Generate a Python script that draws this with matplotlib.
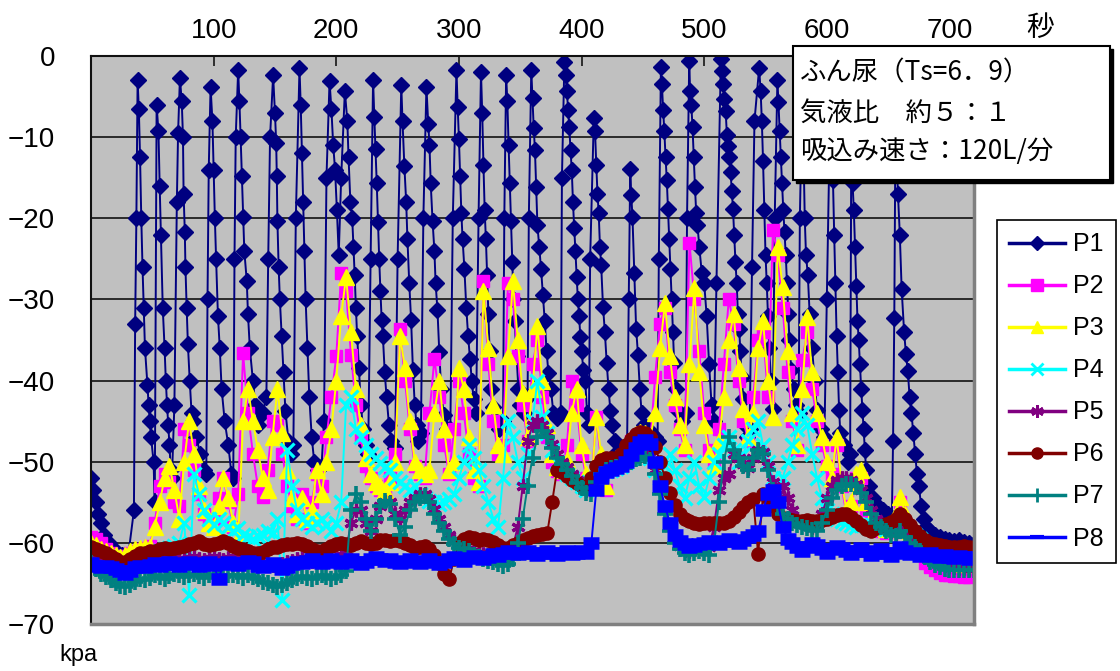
import numpy as np
import matplotlib
matplotlib.use('Agg')
import matplotlib.pyplot as plt
from matplotlib.patches import Rectangle

plt.rcParams['font.family'] = ['Liberation Sans', 'Noto Sans CJK JP', 'DejaVu Sans']

# P1 is read as (seconds, kPa) points, because its spikes are very narrow
p1_pts = [
    (0, -52), (2, -53.5), (4, -55), (6, -56.5), (8, -57.5), (11, -59), (15, -60), (20, -61), (25, -61.5), (30, -62), (35, -56),
    (36, -33), (37, -20), (38, -3), (39, -6.5), (40, -12.5), (41, -20), (42, -26), (43, -31), (44, -36), (46, -40.5), (47, -43), (48, -45), (49, -47), (51, -50), (52, -55),
    (53.5, -6), (55, -9.3), (56, -16), (57, -22), (58.5, -31), (60, -36), (61, -40), (62, -43), (63, -45.5), (64, -48), (65, -51),
    (66, -52), (68, -43), (70, -18), (71, -9.5), (72.5, -2.7), (74, -5.6), (75, -10), (75.5, -17), (76.5, -21.7), (77, -26), (78, -31), (79, -35.5), (80.5, -40), (82, -44), (83.5, -45),
    (86, -47), (89, -49), (92, -51), (94, -51.5),
    (95, -30), (96, -14), (97.5, -3.8), (99, -8), (100, -14), (101, -20), (102, -25), (103.5, -32), (105, -36), (106.5, -41), (109, -45), (112, -48), (114.5, -51.5), (116, -52),
    (117, -25), (118, -10), (120, -1.7), (121, -5.6), (122, -10), (123, -14.8), (124, -19.9), (125, -24), (127, -27.7), (128, -31.8), (129.5, -36), (132, -40), (134, -43), (136.5, -45.5), (140, -44), (143, -42),
    (144.5, -25), (146, -10), (148.5, -2.4), (150, -7), (151, -10.7), (151.5, -14.8), (152, -20.3), (153, -26), (154, -30), (155.5, -34.5), (157, -39), (158.5, -43.7), (161, -47.4), (163, -49), (165, -48),
    (167, -20), (170, -1.5), (171, -6), (172, -12), (173, -18), (174, -24), (175, -30), (176.5, -36), (178, -42), (180, -47), (182, -50), (185, -51), (188, -50.5),
    (190, -45), (192, -15), (194.5, -3.1), (196, -6.5), (197.5, -11), (199, -14), (200.5, -19), (202, -24.5),
    (204, -15), (207, -4.3), (209, -8), (210, -12.5), (211.5, -18), (213, -20), (214, -23.5), (215, -27), (216, -31), (217, -34.5), (218.5, -38.5), (220, -43), (222, -46), (224.5, -48), (226, -49),
    (228, -25), (230, -2.9), (231, -7.5), (232, -11.5), (233, -15.7), (234, -20.5), (235, -25), (236, -29), (237, -32.5), (238, -34.5), (239.5, -39), (241, -42), (243, -45.5), (245, -47.4), (248, -48.3),
    (250, -25), (253, -3.6), (254, -8), (255.5, -13.5), (257, -18), (258, -22.5), (259.5, -28), (261, -32.5), (262.5, -38.7), (264, -43), (265.5, -45.5), (267, -47.5), (269, -46.5),
    (271, -20), (273.5, -3.8), (275, -8.4), (276, -11), (277, -15.7), (278.5, -20.3), (280, -24), (281, -28), (282.5, -31.3), (284, -36.5), (285.5, -41), (287.5, -44.2), (290, -46), (293, -46),
    (295, -20), (298, -1.7), (299, -6.3), (300, -10.2), (301, -14.8), (302, -19.4), (303, -22.6), (304.5, -26.3), (306, -31), (307.5, -34.5), (309, -37.3), (310.5, -40), (312, -42.3), (314, -44),
    (316, -20), (318, -2), (319, -7), (320, -13.4), (321, -19), (322, -22.6), (323, -27), (324, -31.8), (325, -36.4), (326, -41), (327.5, -43.3), (330, -45), (333, -46), (336, -45),
    (337, -20), (338.5, -2.4), (339.5, -5.6), (340.5, -11), (341.5, -15.7), (342.5, -20.3), (343.5, -25.4), (344.5, -30), (345.5, -32.7), (347, -37), (348.5, -41), (350, -43), (353, -44), (356, -42),
    (357, -20), (359, -1.7), (360, -5.2), (361, -8.9), (362, -11.6), (363, -16.2), (364, -20.8), (365.5, -23.5), (367, -26.3), (368.5, -29.5), (370, -32.7), (371.5, -36.4), (373, -39.1), (375, -41), (377, -44), (380, -44.6), (383, -44),
    (384, -15), (386, -0.8), (387, -2.4), (388, -4.3), (389, -6.6), (390, -8.8), (391, -11.6), (392, -14), (393, -18), (394, -21.2), (395, -24), (396, -27.2), (397, -30), (398, -32), (399, -34.6), (400, -36.4), (401.5, -38.7), (403, -40), (404.5, -44), (406, -45.5),
    (407, -25), (410, -7.7), (411, -9.3), (412, -13.4), (413, -17), (414, -19.4), (415, -23.5), (416, -25.8), (417.5, -30.9), (419, -34), (420.5, -37.8), (422, -41), (423.5, -43.7), (425, -45.5), (427, -47.4), (429, -48.8), (432, -49.5), (435, -50), (437, -49.5),
    (438.5, -30), (439.7, -13.9), (440.5, -17.1), (441.5, -19.8), (443, -26.7), (444.5, -33.6), (446, -36.8), (447.5, -41), (449, -44), (451, -45.5), (454, -46), (457, -46.5), (460, -47), (462, -47.4),
    (463, -25), (464.7, -1.3), (465.5, -3.4), (466.5, -6.6), (467.5, -9.3), (468.5, -12.5), (469.5, -15.3), (470.5, -18.9), (471.5, -22.6), (472.5, -26.3), (473.5, -30), (474.5, -34), (475.5, -37.8), (477, -41), (479, -43.7), (482, -45), (485, -44),
    (486, -20), (487.8, -0.6), (488.5, -4.3), (489.5, -6.1), (490.5, -8.8), (491.5, -12.5), (492.5, -16.2), (493.5, -19.4), (494.5, -20.8), (496, -23.5), (498, -26.7), (500, -28), (502, -32), (504, -38), (506, -43), (508, -45),
    (510, -28), (513.6, -0.4), (514.5, -1.9), (515.5, -3.5), (516.5, -5.3), (517.5, -6.8), (518.5, -9.7), (519.5, -11.1), (520.5, -12.5), (521.5, -14.3), (522.5, -16.6), (523.5, -18.9), (524.5, -22.1), (525.5, -25.4), (526.5, -28), (527.5, -31.8), (528.5, -33.6), (529.5, -36.4), (530.5, -39.5), (532, -42.3), (533.5, -45.5), (535, -47), (537, -46),
    (539, -26), (541, -8), (544.8, -1.5), (546, -4.3), (547, -8), (548, -13), (549, -19), (550, -24.5), (551, -28), (552, -32), (553, -36), (554.5, -40), (556, -43.5),
    (557.5, -20), (559.7, -2.9), (560.5, -5.7), (561.5, -9.2), (562.5, -12.5), (563.5, -15.7), (564.5, -19), (565.5, -21.7), (566.5, -24.5), (567.5, -28), (568.5, -31.8), (569.5, -35), (571, -38.7), (573, -41), (575, -43), (577, -44),
    (578, -20), (580, -4), (581, -12), (582, -20), (583, -24.5), (584.5, -27), (586, -31.8), (588, -36), (590, -40), (592, -43.6), (595, -46), (598, -47),
    (600, -30), (603, -4), (604, -10), (605, -15.3), (606, -22), (607, -28), (608, -34.5), (609, -39), (610, -43.6), (611, -46.5), (614, -48), (617, -50), (619, -49),
    (620, -8), (621, -15.7), (622, -19), (623, -23.5), (624, -28.4), (625, -32.6), (626, -35), (627, -38), (628, -41), (629, -43.6), (630, -46), (631, -48.5), (632, -51), (634, -53), (638, -54.5), (642, -55.5), (646, -56), (650, -56.5), (653, -57),
    (654, -47.5), (655, -32.3), (656, -8), (658, -17), (659.5, -22), (661, -28.7), (663, -34), (664.5, -36.7), (666, -38.8), (667.5, -42), (669, -44), (670.5, -46.5), (672, -49), (673.5, -51.5), (675, -53), (677, -55.5), (679, -57), (681, -58),
    (684, -58.5), (688, -59), (692, -59.3), (696, -59.5), (700, -59.6), (704, -59.8), (708, -59.7), (712, -59.9), (716, -60), (720, -60.2),
]

# P2..P8 read every 4 s (0..720 s)
t_grid = list(range(0, 721, 4))

p2 = [-59.3, -59.5, -60, -60.8, -61.2, -61.6, -61.8, -61.6, -61.2, -61,
      -60.8, -60.6, -60.4, -57.5, -53, -51.5, -52.5, -55, -55.5, -46,
      -48, -51, -54, -56.5, -57.5, -57, -54.5, -52, -55, -58,
      -54, -36.6, -44, -49, -53, -54.4, -51, -45, -45.5, -49,
      -53, -55.5, -57, -54, -57.5, -55, -51.5, -53, -47, -42,
      -37, -26.7, -29, -36.8, -43, -47, -50.5, -52, -53, -53.5,
      -53.5, -52, -49, -33.7, -40, -46, -50.5, -51.5, -52, -44,
      -37.3, -42, -48, -51.5, -46, -40, -44, -49, -52, -53,
      -27.7, -38, -45, -49, -48, -28, -30, -37, -43, -47.5,
      -38, -35, -42, -47, -50, -51.2, -51.5, -48, -40, -43,
      -49, -52, -52.5, -44.5, -50, -53.5, -50.5, -50, -49.5, -48.5,
      -47.5, -47, -46.6, -46.8, -47.5, -39.5, -33, -31, -39, -43,
      -46, -48.5, -23, -30, -36.4, -44, -48.5, -50, -46, -38,
      -30, -33, -40, -45, -47.5, -42, -35, -34, -42, -21.5,
      -24.5, -31, -39, -45, -48.5, -37.5, -34, -41, -45, -48,
      -50.5, -51.5, -48, -53, -56.5, -55.5, -52, -52, -56, -57.5,
      -58, -58.5, -58.8, -58.5, -57.5, -55, -57.5, -59.5, -60.5, -61.5,
      -62.5, -63, -63.4, -63.7, -63.9, -64, -64.1, -64.1, -64.2, -64.2,
      -64.1]

p3 = [-60, -60.3, -60.8, -61, -61.3, -61.5, -61.7, -61.5, -61, -60.8,
      -60.6, -60.5, -60.5, -58, -55, -52, -50.5, -53.5, -57, -50,
      -45, -49, -53, -56, -57.5, -58, -55.5, -52, -54.5, -57.5,
      -59.5, -45, -41, -45, -48.5, -52, -53.5, -47, -41, -46.5,
      -51, -54.5, -56.5, -54.5, -57, -56, -51, -54, -50, -46,
      -40, -32, -27.2, -34, -41, -45.5, -49.5, -51.5, -52.5, -53,
      -53.5, -52.5, -50, -34.5, -38.5, -45, -50, -51, -51.5, -51,
      -44, -40, -46, -51, -50, -38.5, -41, -47, -51, -52.5,
      -29, -36, -43, -48, -49, -37, -27.7, -35, -41.5, -47,
      -41, -33.3, -40, -45.5, -49, -50.7, -51, -49.8, -44, -41,
      -48, -51.5, -53, -44.5, -49, -53, -50, -49.5, -49, -48,
      -47.2, -46.6, -46.3, -46.4, -47, -44, -36, -30.5, -37, -42,
      -45.5, -48, -38, -28.6, -39, -45.5, -49, -50.5, -47.5, -42,
      -35, -31.8, -38.5, -43.5, -47, -44, -36, -32.7, -40, -44.5,
      -23.5, -28.5, -36.4, -44, -48, -41, -32.2, -39, -44, -47,
      -50, -52, -47, -52.5, -56, -55, -51.5, -51, -55, -57,
      -57.5, -58, -58.3, -58, -56.5, -54.3, -56.5, -58.5, -59.5, -60.2,
      -60.8, -61.2, -61.5, -61.8, -62, -62.2, -62.4, -62.5, -62.6, -62.6,
      -62.5]

p4 = [-61, -61.3, -61.6, -61.9, -62.2, -62.5, -62.7, -62.8, -62.5, -62.1,
      -61.8, -61.6, -61.4, -61.2, -61, -60.8, -60.6, -60.4, -60, -57.5,
      -66.4, -51.5, -54, -56, -57, -57.8, -57, -57.5, -58, -58.5,
      -58.2, -59, -59.3, -59.5, -59.2, -59, -58.5, -58.8, -57, -67,
      -48.5, -53, -56, -57, -57.5, -58, -57.6, -57, -57.8, -58.5,
      -57.5, -55, -43, -42, -46, -47, -48, -49, -49.5, -50.2,
      -50.6, -51, -52, -52.5, -53, -53.5, -53, -54, -54.5, -54.8,
      -55, -55.2, -55, -54.6, -54, -52, -50, -48, -49.5, -51,
      -53, -55, -57, -58, -52, -45, -47, -50, -52, -49,
      -45, -40, -44.5, -46.5, -48.5, -50, -51, -51.5, -52, -52.5,
      -53, -53.5, -53, -52, -51.5, -51.2, -51, -50.8, -50.5, -50,
      -49.5, -49, -48.8, -49, -49.5, -51, -52, -50.5, -49, -51,
      -53, -54.5, -52, -50, -53, -54.4, -52, -50, -49, -48,
      -47, -48.5, -50, -49, -47.5, -46, -45, -48, -50, -52,
      -53.5, -52, -50, -48, -46, -44, -45.5, -49, -52, -54.5,
      -56, -56.5, -57, -57.3, -57.5, -57.8, -58, -57.8, -57.5, -57.8,
      -58, -58.2, -58.3, -58, -57.7, -57.5, -58, -58.5, -59, -59.5,
      -60.2, -60.8, -61.3, -61.7, -62, -62.2, -62.4, -62.5, -62.5, -62.6,
      -62.5]

p5 = [-61.5, -61.8, -62, -62.2, -62.4, -62.6, -62.8, -63, -62.8, -62.5,
      -62.3, -62.2, -62, -61.8, -62, -62.1, -61.9, -61.8, -62, -62.1,
      -61.9, -61.8, -62, -62.1, -61.9, -61.8, -62, -62.1, -61.9, -61.8,
      -62, -62.2, -62, -62.1, -62.3, -62.5, -62.6, -62.7, -62.8, -62.6,
      -62.4, -62.2, -62, -61.9, -62, -62.2, -62, -61.8, -62, -62.1,
      -62, -61.5, -61, -57.5, -56, -56, -57.5, -58.5, -57, -55.5,
      -55, -55, -56.5, -57, -56, -55, -54.5, -54, -54, -54.6,
      -55.8, -57, -58, -59, -59.8, -60.2, -60.5, -60.7, -61, -61.2,
      -61.4, -61.5, -61.6, -61.7, -61.8, -61.5, -60.5, -58, -53, -47.5,
      -45.5, -45, -45.5, -46.5, -47.8, -49, -50, -50.7, -51.5, -52.2,
      -53, -53.5, -53, -52, -51.5, -51, -50.8, -50.5, -50.2, -49.8,
      -49.4, -49, -48.8, -48.7, -49.3, -51, -53.5, -56, -58, -59.5,
      -60.4, -60.9, -61, -60.8, -60.6, -60.8, -60.5, -58, -53.5, -52,
      -51.5, -49, -49.5, -50.3, -50.8, -49.5, -48.5, -48.8, -50.5, -52.5,
      -54, -53, -54.5, -56, -57, -57.5, -57.8, -58, -57.8, -56.5,
      -54.5, -53, -52.2, -52, -52, -52.3, -52.8, -53.5, -54.5, -56,
      -57, -57.6, -58, -58.5, -58.8, -58, -58.8, -59.6, -60.2, -60.7,
      -61.3, -61.8, -62.2, -62.5, -62.7, -62.9, -63, -63.1, -63.1, -63.2,
      -63.1]

p6 = [-60.5, -60.8, -61, -61.3, -61.6, -62, -62.3, -62.3, -62, -61.6,
      -61.3, -61.2, -61, -61, -60.8, -60.6, -60.7, -60.6, -60.5, -60.4,
      -60.2, -60, -59.8, -60.1, -60.3, -60.2, -60, -59.8, -60, -60.4,
      -60.6, -60.8, -61, -61.2, -61.3, -61.1, -60.8, -60.5, -60.5, -60.3,
      -60.1, -60.2, -60, -60.1, -60.4, -60.7, -61, -61, -60.7, -60.4,
      -60.2, -60, -60.1, -60.3, -60, -59.8, -60, -60.2, -60, -59.7,
      -59.6, -59.8, -59.7, -59.8, -60, -60.3, -60.6, -60.5, -60.4, -60.8,
      -61.5, -62.5, -63.8, -64.5, -62, -60, -59.5, -59.3, -59.4, -59.6,
      -59.5, -59.6, -59.9, -60.3, -60.6, -60.6, -60.3, -60, -59.7, -59.4,
      -59.2, -59, -58.9, -58.8, -55, -51, -51.3, -51.8, -52.2, -52.6,
      -53, -53.2, -52, -50.5, -49.8, -49.6, -49.6, -49.5, -49, -48,
      -47.2, -46.6, -46.3, -46.4, -47, -48.2, -50, -52, -53.8, -55.3,
      -56.4, -57, -57.3, -57.6, -57.7, -57.6, -57.5, -57.5, -57.6, -57.5,
      -57.3, -56.8, -56.2, -55.6, -55, -54.6, -61.4, -54, -54.5, -55.5,
      -56.4, -56.9, -57.1, -57.2, -57.3, -57.3, -57.2, -57.3, -57.3, -57.2,
      -57, -56.8, -56.6, -56.5, -56.5, -56.8, -57.3, -57.8, -58.3, -58.5,
      -58.2, -57.9, -57.7, -57.4, -57, -56.5, -57, -57.8, -58.6, -59.2,
      -59.7, -60, -60.2, -60.3, -60.4, -60.5, -60.5, -60.5, -60.4, -60.5,
      -60.5]

p7 = [-62.5, -63.2, -63.8, -64.2, -64.6, -65, -65.3, -65.5, -65.2, -64.8,
      -64.5, -64.6, -64.3, -64, -64.2, -64.4, -64.1, -63.8, -64, -64.2,
      -64, -63.8, -64.1, -64.3, -64, -63.8, -64, -64.2, -64, -63.9,
      -64.1, -64.3, -64, -64.2, -64.5, -64.8, -65, -65.2, -65.4, -65.2,
      -64.9, -64.6, -64.3, -64.1, -64.3, -64.5, -64.2, -64, -64.2, -64.4,
      -64.2, -64, -63.5, -56, -54, -55, -57, -58.5, -57, -55.5,
      -54.8, -55.2, -57, -59, -58, -56, -55, -54.5, -54.2, -55,
      -56.5, -57.5, -58.5, -59.5, -60.2, -60.6, -60.8, -61, -61.5, -61.8,
      -62, -62.2, -62.4, -62.6, -62.8, -62.6, -62, -60, -57, -53,
      -49.5, -47, -46.2, -47, -48.3, -49.5, -50.3, -51, -51.8, -52.6,
      -53.3, -53.8, -54, -52.5, -51.5, -51, -50.8, -50.6, -50.4, -50.2,
      -50, -49.7, -49.5, -49.3, -49.8, -51.5, -54, -56.5, -58.5, -60,
      -60.8, -61.3, -61.5, -61.2, -61, -61.3, -61.5, -60, -55, -50,
      -47, -48.5, -49.5, -50.5, -51, -49.5, -48.6, -49, -51, -53.5,
      -55.5, -56.5, -57, -57.5, -57.8, -58, -58.2, -58.4, -58.5, -57.5,
      -56, -54.5, -53.5, -53, -52.8, -52.7, -53, -53.8, -55, -56.5,
      -57.5, -58, -58.5, -59, -59.2, -58.5, -59.3, -60, -60.5, -61,
      -61.8, -62.3, -62.7, -63, -63.2, -63.3, -63.3, -63.4, -63.3, -63.4,
      -63.3]

p8 = [-62.5, -62.8, -63, -62.8, -63, -63.2, -63.5, -63.8, -63.5, -63,
      -62.8, -63, -62.7, -62.5, -62.8, -62.6, -62.4, -62.6, -62.8, -62.5,
      -62.3, -62.6, -62.8, -62.5, -62.4, -62.7, -64.5, -62.6, -62.3, -62.5,
      -62.7, -62.5, -62.2, -62.4, -62.8, -63, -62.8, -62.5, -62.7, -63.2,
      -63, -62.6, -62.3, -62.5, -62.2, -62, -62.3, -62.5, -62.2, -62,
      -62.3, -62.5, -62.2, -62, -62.3, -62.6, -62.4, -62, -61.8, -62,
      -62.2, -62, -62.3, -62.5, -62.2, -62, -62.3, -62.5, -62.2, -62,
      -62.3, -62.6, -62.4, -62, -61.8, -62, -62.2, -61.9, -61.6, -61.8,
      -62, -61.7, -61.4, -61.6, -61.3, -61, -61.2, -61.4, -61.2, -61,
      -61.3, -61.5, -61.2, -61, -61.3, -61.5, -61.2, -61, -61.4, -61.2,
      -61, -61.3, -60, -53.5, -52, -51.3, -51, -50.8, -50.5, -50,
      -49.2, -48.3, -47.6, -47.3, -47.8, -50, -53, -55.5, -57.5, -59,
      -59.8, -60.2, -60.5, -60.4, -60.2, -60, -59.8, -60, -60.2, -59.8,
      -59.5, -59.8, -60, -59.6, -59.3, -59, -58.5, -56, -54, -53.5,
      -55, -58, -59.5, -60, -60.5, -61, -60.5, -60, -60.3, -60.8,
      -61.2, -60.8, -60.4, -60.6, -61, -61.4, -61, -60.6, -61, -61.5,
      -61.2, -60.8, -61.2, -61.6, -61.3, -60.5, -61, -61.4, -61.2, -61.6,
      -61.5, -61.3, -61.6, -61.8, -61.5, -61.7, -61.9, -61.6, -61.8, -62,
      -61.8]

labels = ['P1', 'P2', 'P3', 'P4', 'P5', 'P6', 'P7', 'P8']
x_ticks = [100, 200, 300, 400, 500, 600, 700]
y_ticks = [0, -10, -20, -30, -40, -50, -60, -70]

p1_t = [p[0] for p in p1_pts]
p1_v = [p[1] for p in p1_pts]

fig = plt.figure(figsize=(11.2, 6.71), dpi=100)
ax = fig.add_axes([91 / 1120, 1 - 624 / 671, (974 - 91) / 1120, (624 - 56) / 671])
ax.set_facecolor('#c0c0c0')

# colour, marker, size, edge width, legend size, legend edge width
styles = [
    ('#000080', 'D', 8, 1.0, 7, 1.0),
    ('#ff00ff', 's', 9, 1.0, 8, 1.0),
    ('#ffff00', '^', 11.5, 1.0, 9, 1.0),
    ('#00ffff', 'x', 10, 2.3, 9, 2.0),
    ('#800080', (6, 2, 0), 10, 2.3, 9, 2.0),
    ('#800000', 'o', 9.5, 1.0, 8, 1.0),
    ('#008080', '+', 11, 2.6, 10, 2.0),
    ('#0000ff', '_', 12, 9.0, 10, 3.0),
]
data = [(p1_t, p1_v), (t_grid, p2), (t_grid, p3), (t_grid, p4),
        (t_grid, p5), (t_grid, p6), (t_grid, p7), (t_grid, p8)]

handles = []
for (tt, vv), lab, (col, mk, ms, mew, lms, lmew) in zip(data, labels, styles):
    h, = ax.plot(tt, vv, color=col, lw=1.4, marker=mk, ms=ms, mew=mew,
                 mfc=col, mec=col, label=lab)
    handles.append(h)

ax.set_xlim(0, 720)
ax.set_ylim(-70, 0)
ax.set_axisbelow(True)
ax.yaxis.grid(True, color='#111111', lw=1.2)
ax.xaxis.grid(False)

ax.xaxis.tick_top()
ax.set_xticks(x_ticks)
ax.set_yticks(y_ticks)
ax.tick_params(axis='x', direction='in', length=7, width=1.3, pad=9,
               labelsize=20, top=True, bottom=False, color='#222222')
ax.tick_params(axis='y', length=0, pad=26, labelsize=20)

for side in ['left', 'top']:
    ax.spines[side].set_color('#111111')
    ax.spines[side].set_linewidth(1.5)
for side in ['right', 'bottom']:
    ax.spines[side].set_color('#808080')
    ax.spines[side].set_linewidth(2.5)

fig.text(1040 / 1120, 1 - 28 / 671, '秒', ha='center', va='center', fontsize=20,
         family=['Noto Sans CJK JP', 'DejaVu Sans'])
fig.text(78 / 1120, 1 - 655 / 671, 'kpa', ha='center', va='center', fontsize=17)

leg = fig.legend(handles=handles, loc='upper left',
                 bbox_to_anchor=(997 / 1120, 1 - 220 / 671),
                 fontsize=18, frameon=True, fancybox=False, framealpha=1,
                 edgecolor='black', handlelength=2.2, handletextpad=0.35,
                 labelspacing=0.72, borderpad=0.5, borderaxespad=0)
leg.get_frame().set_linewidth(1.2)
for lh, st in zip(leg.legend_handles, styles):
    lh.set_markersize(st[4])
    lh.set_markeredgewidth(st[5])
    lh.set_linewidth(2.5)

# note box with a small shadow
x0, y0, x1, y1 = 793, 46, 1110, 180
fig.add_artist(Rectangle((x0 / 1120 + 3 / 1120, 1 - y1 / 671 - 3 / 671),
                         (x1 - x0) / 1120, (y1 - y0) / 671,
                         transform=fig.transFigure, facecolor='black',
                         edgecolor='black', zorder=4))
fig.add_artist(Rectangle((x0 / 1120, 1 - y1 / 671), (x1 - x0) / 1120, (y1 - y0) / 671,
                         transform=fig.transFigure, facecolor='white',
                         edgecolor='black', lw=1.5, zorder=5))
note_lines = ['ふん尿（Ts=6．9）', '気液比　約５：１', '吸込み速さ：120L/分']
for line, yy in zip(note_lines, [73, 113, 152]):
    fig.text(800 / 1120, 1 - yy / 671, line, ha='left', va='center', fontsize=19,
             family=['Noto Sans CJK JP', 'DejaVu Sans'], zorder=6)

fig.savefig('out.png', dpi=100)
